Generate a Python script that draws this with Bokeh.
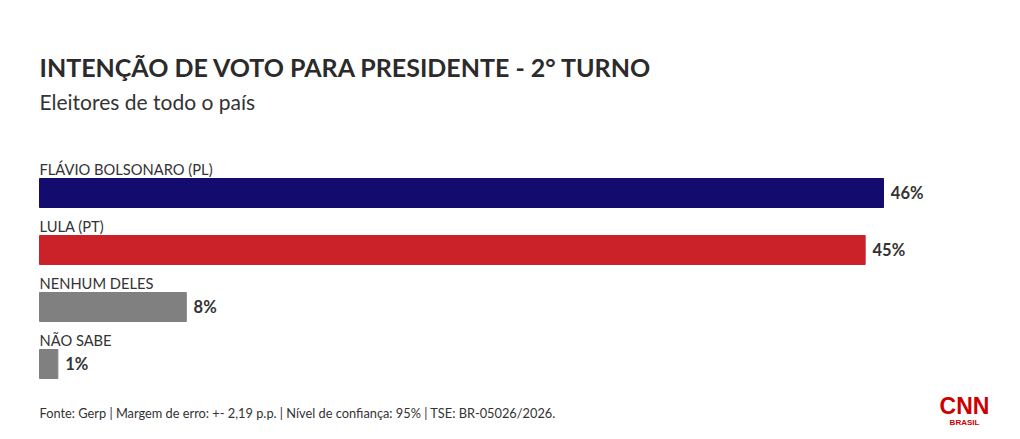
from bokeh.plotting import figure
from bokeh.models import Range1d, ColumnDataSource
from bokeh.core.properties import value
from bokeh.embed import file_html
from bokeh.resources import INLINE

categories = ["FLÁVIO BOLSONARO (PL)", "LULA (PT)", "NENHUM DELES", "NÃO SABE"]
values = [46, 45, 8, 1]
value_labels = ["46%", "45%", "8%", "1%"]
colors = ["#130b6e", "#cb2229", "#808080", "#808080"]

title = "INTENÇÃO DE VOTO PARA PRESIDENTE - 2° TURNO"
subtitle = "Eleitores de todo o país"
footer = "Fonte: Gerp | Margem de erro: +- 2,19 p.p. | Nível de confiança: 95% | TSE: BR-05026/2026."

W, H = 1020, 439
left_px = 39
px_per_unit = 844 / 46.0

p = figure(width=W, height=H, output_backend="svg", toolbar_location=None,
           x_range=Range1d(-left_px / px_per_unit, (W - left_px) / px_per_unit),
           y_range=Range1d(H, 0), min_border=0, outline_line_color=None,
           background_fill_color="white", border_fill_color="white")
p.axis.visible = False
p.grid.visible = False

font = "Lato"
bar_h = 29
y0 = 192.5
step = 57
ys = [y0 + i * step for i in range(len(categories))]
src = ColumnDataSource(dict(cat=categories, val=values, lab=value_labels, col=colors,
                            y=ys, ylab=[y - 24 for y in ys], vx=[v + 0.4 for v in values]))

p.hbar(y="y", left=0, right="val", height=bar_h, color="col", source=src)
p.text(x=0, y="ylab", text="cat", source=src, text_font=value(font), text_font_size="14.7px",
       text_color="#333333", text_baseline="middle", text_align="left")
p.text(x="vx", y="y", text="lab", source=src, text_font=value(font), text_font_size="16.5px",
       text_font_style="bold", text_color="#333333", text_baseline="middle", text_align="left")

p.text(x=[0], y=[66], text=[title], text_font=value(font), text_font_size="25px",
       text_font_style="bold", text_color="#2b2b2b", text_baseline="middle")
p.text(x=[0], y=[101], text=[subtitle], text_font=value(font), text_font_size="21px",
       text_color="#333333", text_baseline="middle")
p.text(x=[0], y=[412], text=[footer], text_font=value(font), text_font_size="12.8px",
       text_color="#333333", text_baseline="middle")

lx = (964 - left_px) / px_per_unit
p.text(x=[lx], y=[405], text=["CNN"], text_font=value("Liberation Sans"), text_font_size="23px",
       text_font_style="bold", text_color="#cc0000", text_baseline="middle", text_align="center")
p.text(x=[lx], y=[422], text=["BRASIL"], text_font=value("Liberation Sans"), text_font_size="8px",
       text_font_style="bold", text_color="#cc0000", text_baseline="middle", text_align="center")

open("out.html", "w").write(file_html(p, INLINE))
